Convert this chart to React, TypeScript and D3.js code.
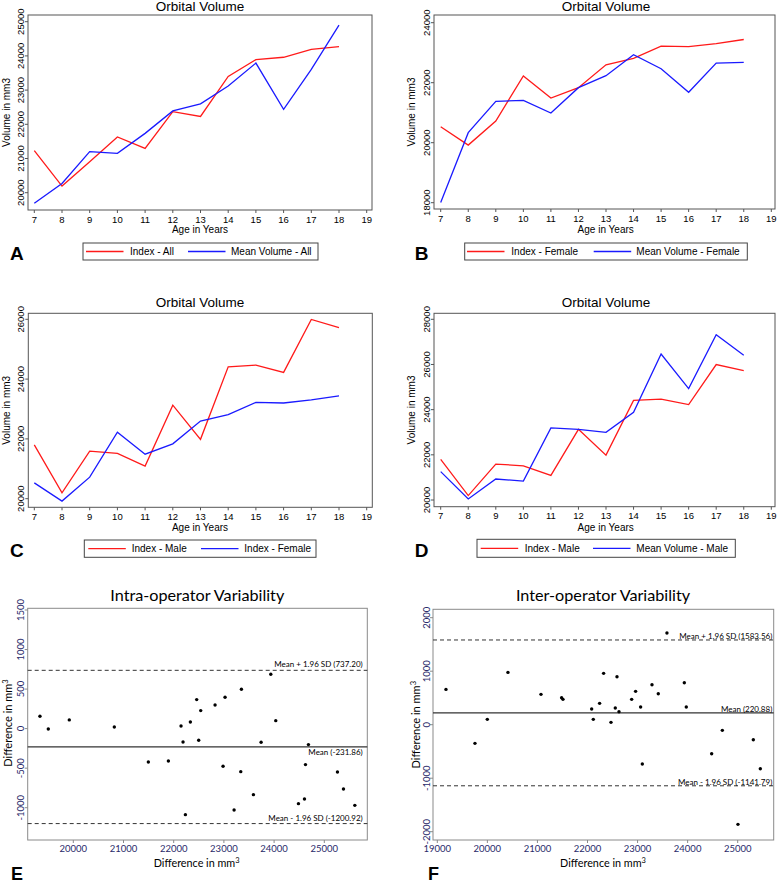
import * as d3 from 'd3';

// ---- data ----
const ages = [7, 8, 9, 10, 11, 12, 13, 14, 15, 16, 17, 18];
const ageTicks = [7, 8, 9, 10, 11, 12, 13, 14, 15, 16, 17, 18, 19];

const indexAll = [21230, 20195, 20905, 21630, 21295, 22370, 22230, 23400, 23890, 23960, 24190, 24270];
const meanVolumeAll = [19690, 20270, 21200, 21150, 21735, 22390, 22600, 23120, 23790, 22440, 23605, 24900];
const indexFemale = [20530, 19920, 20720, 22225, 21490, 21835, 22595, 22810, 23220, 23200, 23305, 23440];
const meanVolumeFemale = [18010, 20335, 21380, 21410, 20990, 21835, 22235, 22935, 22465, 21680, 22655, 22680];
const indexMale = [21800, 20195, 21590, 21515, 21090, 23130, 21985, 24410, 24470, 24225, 25995, 25725];
const meanVolumeMale = [21255, 20045, 20930, 20840, 23190, 23130, 22995, 23880, 26465, 24930, 27320, 26405];

const intraX = [19336, 19502, 19920, 20817, 21495, 21894, 22146, 22186, 22233, 22332, 22458, 22498, 22538, 22824, 22983,
    23023, 23203, 23336, 23349, 23588, 23741, 23934, 24033, 24485, 24605, 24625, 24684, 25262, 25382, 25608];
const intraY = [156, -4, 110, 21, -422, -409, 34, -169, -1088, 84, 367, -148, 228, 299, -476,
    396, -1029, -544, 497, -835, -173, 687, 101, -949, -890, -455, -202, -548, -763, -970];
const intraStats = {mean: -231.86, upper: 737.2, lower: -1200.92};

const interX = [19173, 19752, 19999, 20411, 21071, 21483, 21510, 22083, 22116, 22242, 22322, 22469, 22555, 22589, 22629,
    22882, 22961, 23061, 23095, 23288, 23414, 23587, 23934, 23973, 24480, 24693, 25005, 25312, 25452];
const interY = [660, -349, 100, 978, 567, 505, 474, 293, 100, 399, 960, 44, 312, 897, 243,
    474, 623, 330, -735, 748, 579, 1713, 785, 330, -542, -106, -1863, -280, -822];
const interStats = {mean: 220.88, upper: 1583.56, lower: -1141.79};

const RED = '#ff1a1a';
const BLUE = '#1a1aff';
const NAVY = '#2a2a6a';
const ARIAL = '"Liberation Sans", Arial, sans-serif';
const CAL = 'Lato, "Open Sans", sans-serif';

const LinePanel = ({cfg, series}) => {
    const x = d3.scaleLinear().domain([7, 19]).range(cfg.xr);
    const y = d3.scaleLinear().domain(cfg.yd).range(cfg.yr);
    const yTicks = d3.range(cfg.yd[0], cfg.yd[1] + 1, cfg.step);
    const line = d3
        .line<number>()
        .x((_, i) => x(ages[i]))
        .y((d) => y(d));
    const {box, legend} = cfg;
    const ly = (legend.y0 + legend.y1) / 2;
    return (
        <g fontFamily={ARIAL}>
            <text x={cfg.title[0]} y={cfg.title[1]} fontSize={13.5} textAnchor="middle">Orbital Volume</text>
            <rect x={box.x0} y={box.y0} width={box.x1 - box.x0} height={box.y1 - box.y0} fill="none" stroke="#555" />
            {yTicks.map((t) => (
                <g key={t}>
                    <line x1={box.x0 - 3} x2={box.x0} y1={y(t)} y2={y(t)} stroke="#555" />
                    <text transform={`translate(${box.x0 - 4.5},${y(t)}) rotate(-90)`} fontSize={9.5} textAnchor="middle">
                        {t}
                    </text>
                </g>
            ))}
            {ageTicks.map((t) => (
                <g key={t}>
                    <line x1={x(t)} x2={x(t)} y1={box.y1} y2={box.y1 + 3} stroke="#555" />
                    <text x={x(t)} y={box.y1 + 12.5} fontSize={9.5} textAnchor="middle">{t}</text>
                </g>
            ))}
            <text x={cfg.xTitle[0]} y={cfg.xTitle[1]} fontSize={10} textAnchor="middle">Age in Years</text>
            <text transform={`translate(${cfg.yTitleX},${(box.y0 + box.y1) / 2}) rotate(-90)`} fontSize={10} textAnchor="middle">
                Volume in mm3
            </text>
            {series.map((s) => (
                <path key={s.name} d={line(s.values)} fill="none" stroke={s.color} strokeWidth={1.3} />
            ))}
            <rect x={legend.x0} y={legend.y0} width={legend.x1 - legend.x0} height={legend.y1 - legend.y0} fill="none" stroke="#444" />
            {series.map((s, i) => (
                <g key={s.name}>
                    <line x1={legend.items[i][0]} x2={legend.items[i][0] + 37.5} y1={ly} y2={ly} stroke={s.color} strokeWidth={1.3} />
                    <text x={legend.items[i][1]} y={ly + 3.5} fontSize={10}>{s.name}</text>
                </g>
            ))}
            <text x={cfg.letter[0]} y={cfg.letter[1]} fontSize={19} fontWeight="bold">{cfg.label}</text>
        </g>
    );
};

const BlandPanel = ({cfg, xs, ys, stats}) => {
    const x = d3.scaleLinear().domain(cfg.xd).range(cfg.xr);
    const y = d3.scaleLinear().domain(cfg.yd).range(cfg.yr);
    const xTicks = d3.range(cfg.xd[0], cfg.xd[1] + 1, 1000);
    const yTicks = d3.range(cfg.yd[0], cfg.yd[1] + 1, cfg.step);
    const {box} = cfg;
    const refs = [
        {v: stats.upper, label: `Mean + 1.96 SD (${stats.upper.toFixed(2)})`, dash: '4,3', dy: cfg.dy[0]},
        {v: stats.mean, label: `Mean (${stats.mean.toFixed(2)})`, dash: null, dy: cfg.dy[1]},
        {v: stats.lower, label: `Mean - 1.96 SD (${stats.lower.toFixed(2)})`, dash: '4,3', dy: cfg.dy[2]},
    ];
    return (
        <g fontFamily={CAL}>
            <text x={cfg.title[0]} y={cfg.title[1]} fontSize={16.2} textAnchor="middle">{cfg.titleText}</text>
            <rect x={box.x0} y={box.y0} width={box.x1 - box.x0} height={box.y1 - box.y0} fill="none" stroke="#8a8a8a" />
            {xTicks.map((t) => (
                <g key={t}>
                    <line x1={x(t)} x2={x(t)} y1={box.y1} y2={box.y1 + 3} stroke="#8a8a8a" />
                    <text x={x(t)} y={box.y1 + 12} fontSize={9.5} fill={NAVY} textAnchor="middle">{t}</text>
                </g>
            ))}
            {yTicks.map((t) => (
                <g key={t}>
                    <line x1={box.x0 - 3} x2={box.x0} y1={y(t)} y2={y(t)} stroke="#8a8a8a" />
                    <text transform={`translate(${box.x0 - 3.5},${y(t)}) rotate(-90)`} fontSize={9.5} fill={NAVY} textAnchor="middle">
                        {t}
                    </text>
                </g>
            ))}
            <text x={cfg.xTitle[0]} y={cfg.xTitle[1]} fontSize={10.8} textAnchor="middle">
                Difference in mm<tspan dy={-4} fontSize={7.5}>3</tspan>
            </text>
            <text transform={`translate(${cfg.yTitle[0]},${cfg.yTitle[1]}) rotate(-90)`} fontSize={11} textAnchor="middle">
                Difference in mm<tspan dy={-4} fontSize={7.5}>3</tspan>
            </text>
            {refs.map((r) => (
                <g key={r.label}>
                    <line
                        x1={box.x0}
                        x2={box.x1}
                        y1={y(r.v)}
                        y2={y(r.v)}
                        stroke="#333"
                        strokeWidth={r.dash ? 1 : 1.2}
                        strokeDasharray={r.dash || undefined}
                    />
                    <text x={cfg.labelX} y={y(r.v) + r.dy} fontSize={8} textAnchor="end">{r.label}</text>
                </g>
            ))}
            {xs.map((v, i) => (
                <circle key={i} cx={x(v)} cy={y(ys[i])} r={1.7} fill="#000" />
            ))}
            <text x={cfg.letter[0]} y={cfg.letter[1]} fontSize={18} fontWeight="bold" fontFamily={ARIAL}>{cfg.label}</text>
        </g>
    );
};

const panelA = {
    label: 'A',
    box: {x0: 28, x1: 372, y0: 15, y1: 210},
    xr: [34.3, 366.7], yd: [20000, 25000], yr: [192.7, 21.7], step: 1000,
    title: [200, 11], xTitle: [200, 233], yTitleX: 9.5, letter: [10, 260],
    legend: {x0: 83, x1: 318, y0: 243, y1: 260, items: [[86, 130], [188, 231]]},
};
const panelB = {
    label: 'B',
    box: {x0: 434, x1: 775, y0: 15, y1: 209},
    xr: [440.7, 771.3], yd: [18000, 24000], yr: [202.7, 22.7], step: 2000,
    title: [606, 11], xTitle: [605.7, 233], yTitleX: 415, letter: [414.7, 260],
    legend: {x0: 464.7, x1: 747.3, y0: 243, y1: 260, items: [[467, 511.3], [593.7, 636.3]]},
};
const panelC = {
    label: 'C',
    box: {x0: 28.3, x1: 372.3, y0: 313.3, y1: 507.3},
    xr: [34.3, 366.7], yd: [20000, 26000], yr: [498.7, 319.3], step: 2000,
    title: [200, 306.7], xTitle: [200, 530.7], yTitleX: 10, letter: [10, 557.3],
    legend: {x0: 84.3, x1: 316, y0: 540, y1: 557.3, items: [[88.3, 131.7], [201, 244.3]]},
};
const panelD = {
    label: 'D',
    box: {x0: 434, x1: 775, y0: 313.3, y1: 506.7},
    xr: [440.7, 771.3], yd: [20000, 28000], yr: [500, 319.3], step: 2000,
    title: [606, 306.7], xTitle: [605.7, 530.7], yTitleX: 415.3, letter: [414.7, 557.3],
    legend: {x0: 477, x1: 735.3, y0: 539.3, y1: 557.3, items: [[480.7, 524.7], [593, 636.3]]},
};
const panelE = {
    label: 'E', titleText: 'Intra-operator Variability',
    box: {x0: 27.7, x1: 367.3, y0: 608.3, y1: 840},
    xd: [20000, 25000], xr: [73.3, 324.3], yd: [-1000, 1500], yr: [807.7, 610], step: 500,
    title: [197.3, 600.5], xTitle: [196.7, 866.7], yTitle: [12, 723], letter: [11, 880],
    labelX: 362.7, dy: [-3, 8, -3],
};
const panelF = {
    label: 'F', titleText: 'Inter-operator Variability',
    box: {x0: 433, x1: 773.7, y0: 609.3, y1: 840},
    xd: [19000, 25000], xr: [437.3, 737.7], yd: [-2000, 2000], yr: [831.7, 617.7], step: 1000,
    title: [603, 600.5], xTitle: [603, 866.7], yTitle: [420, 724.7], letter: [428, 880],
    labelX: 772.3, dy: [-1, -1, -1],
};

export default function App() {
    return (
        <svg width={778} height={885} style={{position: 'absolute', left: 0, top: 0, background: '#fff'}}>
            <LinePanel
                cfg={panelA}
                series={[
                    {name: 'Index - All', values: indexAll, color: RED},
                    {name: 'Mean Volume - All', values: meanVolumeAll, color: BLUE},
                ]}
            />
            <LinePanel
                cfg={panelB}
                series={[
                    {name: 'Index - Female', values: indexFemale, color: RED},
                    {name: 'Mean Volume - Female', values: meanVolumeFemale, color: BLUE},
                ]}
            />
            <LinePanel
                cfg={panelC}
                series={[
                    {name: 'Index - Male', values: indexMale, color: RED},
                    {name: 'Index - Female', values: indexFemale, color: BLUE},
                ]}
            />
            <LinePanel
                cfg={panelD}
                series={[
                    {name: 'Index - Male', values: indexMale, color: RED},
                    {name: 'Mean Volume - Male', values: meanVolumeMale, color: BLUE},
                ]}
            />
            <BlandPanel cfg={panelE} xs={intraX} ys={intraY} stats={intraStats} />
            <BlandPanel cfg={panelF} xs={interX} ys={interY} stats={interStats} />
        </svg>
    );
}
